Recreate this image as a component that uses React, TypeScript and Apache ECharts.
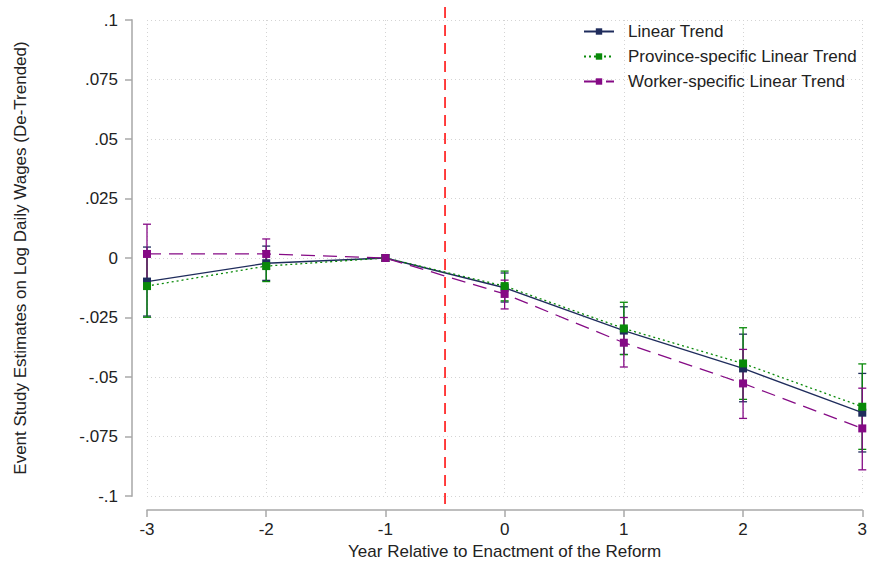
import React, { useEffect, useRef } from "react";
import * as echarts from "echarts";

const years = [-3, -2, -1, 0, 1, 2, 3];

const linearEst = [-0.0099, -0.0022, 0, -0.0125, -0.0305, -0.0464, -0.065];
const linearLo = [-0.0244, -0.0094, 0, -0.0185, -0.0405, -0.0604, -0.0815];
const linearHi = [0.0046, 0.005, 0, -0.0063, -0.0205, -0.032, -0.0485];

const provEst = [-0.0118, -0.0034, 0, -0.0118, -0.0296, -0.0443, -0.0625];
const provLo = [-0.0249, -0.0099, 0, -0.018, -0.0406, -0.0594, -0.0804];
const provHi = [0.0013, 0.0031, 0, -0.0055, -0.0186, -0.0293, -0.0445];

const workerEst = [0.0017, 0.0017, 0, -0.0151, -0.0356, -0.0527, -0.0716];
const workerLo = [-0.0117, -0.0046, 0, -0.0214, -0.0458, -0.0674, -0.089];
const workerHi = [0.0142, 0.008, 0, -0.0093, -0.025, -0.0384, -0.0547];

const reformLine = -0.5;

const NAVY = "#1f2c5c";
const GREEN = "#0a8a0a";
const PURPLE = "#850a85";
const FONT = "'Liberation Sans', Arial, sans-serif";
const FS = 17;

function fmtY(v: number): string {
  if (Math.abs(v) < 1e-9) return "0";
  const s = String(Math.round(v * 1000) / 1000);
  return s.replace("0.", ".");
}

function errSeries(name: string, lo: number[], hi: number[], color: string) {
  const data = years
    .map((x, i) => [x, lo[i], hi[i]])
    .filter((d) => d[1] !== d[2]);
  return {
    type: "custom",
    name: name + "-ci",
    z: 1,
    silent: true,
    renderItem: (params: any, api: any) => {
      const x = api.value(0);
      const p1 = api.coord([x, api.value(1)]);
      const p2 = api.coord([x, api.value(2)]);
      const w = 4;
      const style = { stroke: color, lineWidth: 1.3, fill: "none" };
      return {
        type: "group",
        children: [
          { type: "line", shape: { x1: p1[0], y1: p1[1], x2: p2[0], y2: p2[1] }, style },
          { type: "line", shape: { x1: p1[0] - w, y1: p1[1], x2: p1[0] + w, y2: p1[1] }, style },
          { type: "line", shape: { x1: p2[0] - w, y1: p2[1], x2: p2[0] + w, y2: p2[1] }, style },
        ],
      };
    },
    encode: { x: 0, y: [1, 2] },
    data,
    clip: false,
  };
}

function lineSeries(name: string, est: number[], color: string, type: any, z: number) {
  return {
    type: "line",
    name,
    z,
    data: years.map((x, i) => [x, est[i]]),
    symbol: "rect",
    symbolSize: 8,
    itemStyle: { color },
    lineStyle: { color, width: 1.3, type },
    clip: false,
  };
}

export default function App() {
  const ref = useRef<HTMLDivElement>(null);
  useEffect(() => {
    if (!ref.current) return;
    const chart = echarts.init(ref.current, null, { renderer: "svg" });
    chart.setOption({
      animation: false,
      backgroundColor: "#ffffff",
      textStyle: { fontFamily: FONT },
      grid: { left: 147, right: 3, top: 20, bottom: 73 },
      legend: {
        orient: "vertical",
        left: 583,
        top: 23,
        padding: 0,
        itemWidth: 30,
        itemHeight: 8,
        itemGap: 8,
        textStyle: { fontSize: FS, color: "#222", fontFamily: FONT, padding: [0, 0, 0, 9] },
        data: ["Linear Trend", "Province-specific Linear Trend", "Worker-specific Linear Trend"],
      },
      xAxis: {
        type: "value",
        min: -3,
        max: 3,
        interval: 1,
        offset: 14,
        name: "Year Relative to Enactment of the Reform",
        nameLocation: "middle",
        nameGap: 33,
        nameTextStyle: { fontSize: FS, color: "#222", fontFamily: FONT },
        axisLine: { onZero: false, lineStyle: { color: "#a8a8a8", width: 1.5 } },
        axisTick: { length: 7, lineStyle: { color: "#a8a8a8", width: 1.5 } },
        axisLabel: { fontSize: FS, color: "#222", margin: 11, formatter: (v: number) => String(v) },
        splitLine: { show: true, lineStyle: { color: "#d4d4d4", type: [1, 3], width: 1 } },
      },
      yAxis: {
        type: "value",
        min: -0.1,
        max: 0.1,
        interval: 0.025,
        offset: 15,
        name: "Event Study Estimates on Log Daily Wages (De-Trended)",
        nameLocation: "middle",
        nameGap: 103,
        nameTextStyle: { fontSize: FS, color: "#222", fontFamily: FONT },
        axisLine: { show: true, onZero: false, lineStyle: { color: "#bdbdbd", width: 2 } },
        axisTick: { show: true, length: 7, lineStyle: { color: "#a8a8a8", width: 1.5 } },
        axisLabel: { fontSize: FS, color: "#222", margin: 14, formatter: fmtY },
        splitLine: { show: true, lineStyle: { color: "#d4d4d4", type: [1, 3], width: 1 } },
      },
      series: [
        {
          type: "custom",
          name: "reform",
          silent: true,
          z: 0,
          clip: false,
          data: [[reformLine]],
          encode: { x: 0 },
          renderItem: (params: any, api: any) => {
            const top = api.coord([api.value(0), 0.1]);
            const bot = api.coord([api.value(0), -0.1]);
            return {
              type: "line",
              shape: { x1: top[0], y1: top[1] - 13, x2: bot[0], y2: bot[1] + 14 },
              style: { stroke: "#ff0000", lineWidth: 1.5, lineDash: [11, 7] },
            };
          },
        },
        errSeries("Linear Trend", linearLo, linearHi, NAVY),
        errSeries("Province-specific Linear Trend", provLo, provHi, GREEN),
        errSeries("Worker-specific Linear Trend", workerLo, workerHi, PURPLE),
        lineSeries("Linear Trend", linearEst, NAVY, "solid", 3),
        lineSeries("Province-specific Linear Trend", provEst, GREEN, [2, 3], 4),
        lineSeries("Worker-specific Linear Trend", workerEst, PURPLE, [14, 8], 5),
      ],
    });
    return () => chart.dispose();
  }, []);
  return (
    <div
      ref={ref}
      style={{ position: "absolute", left: 0, top: 0, width: 870, height: 569 }}
    />
  );
}
